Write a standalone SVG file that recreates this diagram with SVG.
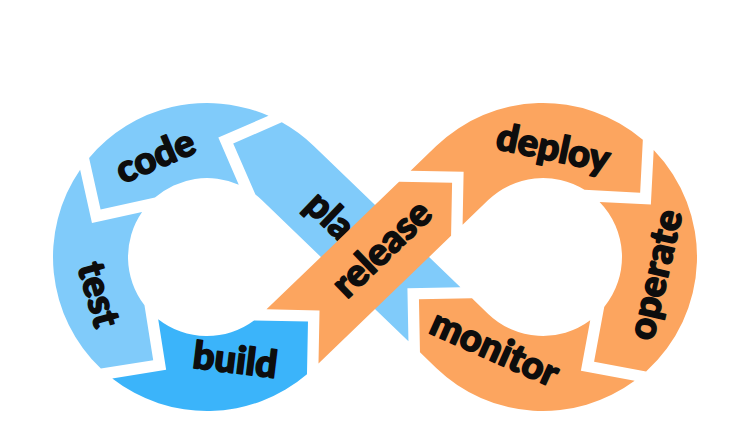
<svg xmlns="http://www.w3.org/2000/svg" width="741" height="427" viewBox="0 0 741 427">
<style>
.lb{fill:#80CBFA}
.db{fill:#3BB4FA}
.or{fill:#FCA55F}
.lbl{font-family:Lato,"Liberation Sans",sans-serif;font-weight:900;font-size:38px;fill:#0d0d0d;stroke:#0d0d0d;stroke-width:1.6px;stroke-linejoin:round;text-anchor:middle}
</style>
<rect width="741" height="427" fill="#fff"/>
<g id="plan">
<path class="lb" d="M460.44,287.19 L407.42,288.21 L408.44,341.23 L261.78,200.08 A79,79 0 0 0 255.42,194.57 L233.21,143.49 L281.78,122.37 A154,154 0 0 1 313.79,146.04 Z"/>
<text class="lbl" transform="translate(329,217) rotate(43.9)" y="11">pla</text>
</g>
<g id="code">
<path class="lb" d="M268.51,115.82 L218.33,137.62 L238.78,184.67 A79,79 0 0 0 154.96,197.56 L100.57,209.61 L89.10,157.93 A154,154 0 0 1 268.51,115.82 Z"/>
<text class="lbl" transform="translate(156,158) rotate(-23)" y="11">code</text>
</g>
<g id="test">
<path class="lb" d="M80.13,169.70 L91.97,223.10 L142.06,212.01 A79,79 0 0 0 144.47,305.27 L153.21,360.34 L100.86,368.58 A154,154 0 0 1 80.13,169.70 Z"/>
<text class="lbl" transform="translate(97,295) rotate(74)" y="11">test</text>
</g>
<g id="build">
<path class="db" d="M112.27,378.41 L166.14,369.74 L158.21,319.13 A79,79 0 0 0 254.06,320.45 L307.99,321.49 L306.98,374.13 A154,154 0 0 1 112.27,378.41 Z"/>
<text class="lbl" transform="translate(235,362) rotate(7)" y="11">build</text>
</g>
<g id="release">
<path class="or" d="M266.50,309.37 L319.52,310.39 L318.50,363.41 L451.07,235.82 L452.09,182.80 L399.07,181.78 Z"/>
<text class="lbl" transform="translate(383,250) rotate(-43.9)" y="11">release</text>
</g>
<g id="deploy">
<path class="or" d="M410.60,170.69 L463.62,171.71 L462.60,224.73 L488.22,200.08 A79,79 0 0 1 584.51,189.79 L640.15,192.70 L642.84,139.75 A154,154 0 0 0 436.21,146.04 Z"/>
<text class="lbl" transform="translate(553,150) rotate(12)" y="11">deploy</text>
</g>
<g id="operate">
<path class="or" d="M653.70,149.94 L650.86,204.58 L599.61,201.90 A79,79 0 0 1 604.22,306.93 L594.07,361.71 L646.11,371.39 A154,154 0 0 0 653.70,149.94 Z"/>
<text class="lbl" transform="translate(657,275) rotate(-77)" y="11">operate</text>
</g>
<g id="monitor">
<path class="or" d="M634.67,380.74 L580.89,370.78 L590.23,320.33 A79,79 0 0 1 488.22,313.92 L471.97,298.28 L418.95,299.30 L419.97,352.32 L436.21,367.96 A154,154 0 0 0 634.67,380.74 Z"/>
<text class="lbl" transform="translate(494,350) rotate(24)" y="11">monitor</text>
</g>
<g id="connectors"/>
</svg>
